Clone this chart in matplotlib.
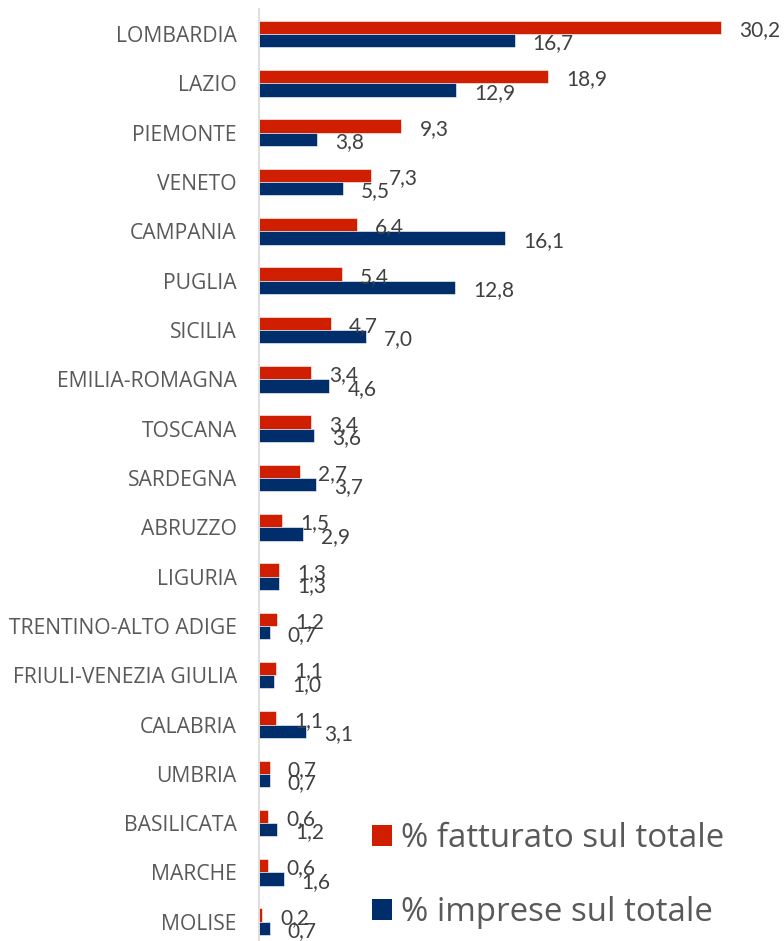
import matplotlib
matplotlib.use("Agg")
import matplotlib.pyplot as plt
from matplotlib.patches import Patch

# dati regionali (valori in %)
regioni = ["LOMBARDIA", "LAZIO", "PIEMONTE", "VENETO", "CAMPANIA", "PUGLIA",
           "SICILIA", "EMILIA-ROMAGNA", "TOSCANA", "SARDEGNA", "ABRUZZO",
           "LIGURIA", "TRENTINO-ALTO ADIGE", "FRIULI-VENEZIA GIULIA",
           "CALABRIA", "UMBRIA", "BASILICATA", "MARCHE", "MOLISE"]
fatturato = [30.2, 18.9, 9.3, 7.3, 6.4, 5.4, 4.7, 3.4, 3.4, 2.7, 1.5,
             1.3, 1.2, 1.1, 1.1, 0.7, 0.6, 0.6, 0.2]
imprese = [16.7, 12.9, 3.8, 5.5, 16.1, 12.8, 7.0, 4.6, 3.6, 3.7, 2.9,
           1.3, 0.7, 1.0, 3.1, 0.7, 1.2, 1.6, 0.7]
serie = ["% fatturato sul totale", "% imprese sul totale"]

ROSSO = "#D01E00"
BLU = "#002E6B"
GRIGIO = "#595959"

fig = plt.figure(figsize=(7.84, 9.41), dpi=100)
ax = fig.add_axes([0.3304, 0.0, 0.644, 0.990])

h = 0.27
y = list(range(len(regioni)))
ax.barh([i - h / 2 for i in y], fatturato, height=h, color=ROSSO,
        edgecolor="white", linewidth=0.4)
ax.barh([i + h / 2 for i in y], imprese, height=h, color=BLU,
        edgecolor="white", linewidth=0.4)

def fmt(v):
    return f"{v:.1f}".replace(".", ",")

for i in y:
    ax.annotate(fmt(fatturato[i]), (fatturato[i], i - h / 2), xytext=(13, -2),
                textcoords="offset points", ha="left", va="center",
                fontsize=15, family="Lato", color="#404040", annotation_clip=False)
    ax.annotate(fmt(imprese[i]), (imprese[i], i + h / 2), xytext=(13, -2),
                textcoords="offset points", ha="left", va="center",
                fontsize=15, family="Lato", color="#404040", annotation_clip=False)

ax.set_xlim(0, 33)
ax.set_ylim(18.39, -0.5)
ax.set_yticks(y)
ax.set_yticklabels(regioni, family="Open Sans", fontsize=15.2, color=GRIGIO)
ax.tick_params(axis="y", length=0, pad=16)
ax.set_xticks([])
for s in ["top", "right", "bottom"]:
    ax.spines[s].set_visible(False)
ax.spines["left"].set_color("#D9D9D9")
ax.spines["left"].set_linewidth(1.2)

handles = [Patch(facecolor=ROSSO), Patch(facecolor=BLU)]
leg = fig.legend(handles, serie, loc="upper left",
                 bbox_to_anchor=(372 / 784, 1 - 822 / 941), frameon=False,
                 prop={"family": "Open Sans", "size": 23.8},
                 handlelength=0.6, handleheight=0.6, handletextpad=0.28,
                 labelspacing=1.25, borderpad=0, borderaxespad=0)
for t in leg.get_texts():
    t.set_color(GRIGIO)

fig.savefig("out.png", dpi=100)
